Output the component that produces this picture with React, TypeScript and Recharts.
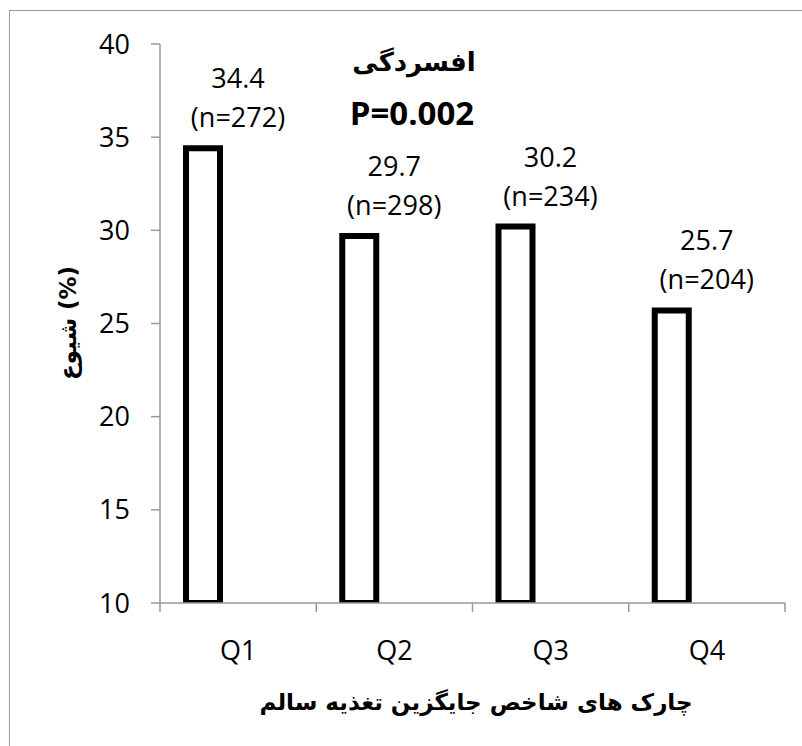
import React from "react"
import { BarChart, Bar, XAxis, YAxis, Customized } from "recharts"

const categories = ["Q1", "Q2", "Q3", "Q4"]
const prevalence = [34.4, 29.7, 30.2, 25.7]
const counts = [272, 298, 234, 204]
const yTicks = [10, 15, 20, 25, 30, 35, 40]

const rows = categories.map((q, i) => ({ q, value: prevalence[i], n: counts[i], spacer: null }))

const W = 802
const H = 746
const MARGIN = { top: 44, right: 17, left: 0, bottom: 0 }
const Y_AXIS_W = 160
const X_AXIS_H = 143
const PLOT_W = W - MARGIN.left - MARGIN.right - Y_AXIS_W
const BAND = PLOT_W / categories.length
const BAR_SIZE = 34
const BAR_GAP = 36

const AXIS = "#999999"
const NUM_FONT = "'Open Sans', 'Noto Sans', sans-serif"
const FA_FONT = "'DejaVu Sans', sans-serif"
const NUM_SIZE = 27

const renderBarLabel = (props: any) => {
  const { x, y, width, index } = props
  const cx = Number(x) + Number(width) + BAR_GAP / 2
  const top = Number(y)
  return (
    <g>
      <text x={cx} y={top - 60} textAnchor="middle" fontFamily={NUM_FONT} fontSize={NUM_SIZE} fill="#000">
        {prevalence[index].toFixed(1)}
      </text>
      <text x={cx} y={top - 21} textAnchor="middle" fontFamily={NUM_FONT} fontSize={NUM_SIZE} fill="#000">
        (n={counts[index]})
      </text>
    </g>
  )
}

const XTick = (props: any) => {
  const { x, y, payload, index } = props
  const half = BAND / 2
  return (
    <g>
      <line x1={x - half} x2={x - half} y1={y} y2={y + 9} stroke={AXIS} strokeWidth={1.5} />
      {index === categories.length - 1 && (
        <line x1={x + half} x2={x + half} y1={y} y2={y + 9} stroke={AXIS} strokeWidth={1.5} />
      )}
      <text x={x} y={y + 57} textAnchor="middle" fontFamily={NUM_FONT} fontSize={NUM_SIZE} fill="#000">
        {payload.value}
      </text>
    </g>
  )
}

const Titles = () => (
  <g>
    <text x={414} y={71} textAnchor="middle" fontFamily={FA_FONT} fontWeight="bold" fontSize={26} fill="#000">
      افسردگی
    </text>
    <text x={412} y={125} textAnchor="middle" fontFamily={NUM_FONT} fontWeight="bold" fontSize={33} fill="#000">
      P=0.002
    </text>
    <text
      x={0}
      y={0}
      transform="translate(76 323) rotate(-90)"
      textAnchor="middle"
      fontFamily={FA_FONT}
      fontWeight="bold"
      fontSize={23}
      fill="#000"
    >
      شیوع (%)
    </text>
    <text x={476} y={710} textAnchor="middle" fontFamily={FA_FONT} fontWeight="bold" fontSize={23} fill="#000">
      چارک های شاخص جایگزین تغذیه سالم
    </text>
  </g>
)

export default function App() {
  return (
    <div style={{ position: "absolute", left: 0, top: 0, width: W, height: H, overflow: "hidden", background: "#fff" }}>
      <div
        style={{
          position: "absolute",
          left: 9,
          top: 10,
          width: 900,
          height: 900,
          border: `1.5px solid ${AXIS}`,
        }}
      />
      <div style={{ position: "absolute", left: 0, top: 0 }}>
        <BarChart width={W} height={H} data={rows} margin={MARGIN} barGap={BAR_GAP} barSize={BAR_SIZE}>
          <YAxis
            width={Y_AXIS_W}
            domain={[10, 40]}
            ticks={yTicks}
            type="number"
            allowDataOverflow
            stroke={AXIS}
            strokeWidth={1.5}
            tickSize={9}
            tickMargin={21}
            tick={{ fill: "#000", fontSize: NUM_SIZE, fontFamily: NUM_FONT }}
          />
          <XAxis
            dataKey="q"
            height={X_AXIS_H}
            stroke={AXIS}
            strokeWidth={1.5}
            tickLine={false}
            tickSize={0}
            tickMargin={0}
            interval={0}
            tick={<XTick />}
          />
          <Bar dataKey="value" fill="#fff" stroke="#000" strokeWidth={6} isAnimationActive={false} label={renderBarLabel} />
          <Bar dataKey="spacer" fill="none" isAnimationActive={false} />
          <Customized component={Titles} />
        </BarChart>
      </div>
    </div>
  )
}
